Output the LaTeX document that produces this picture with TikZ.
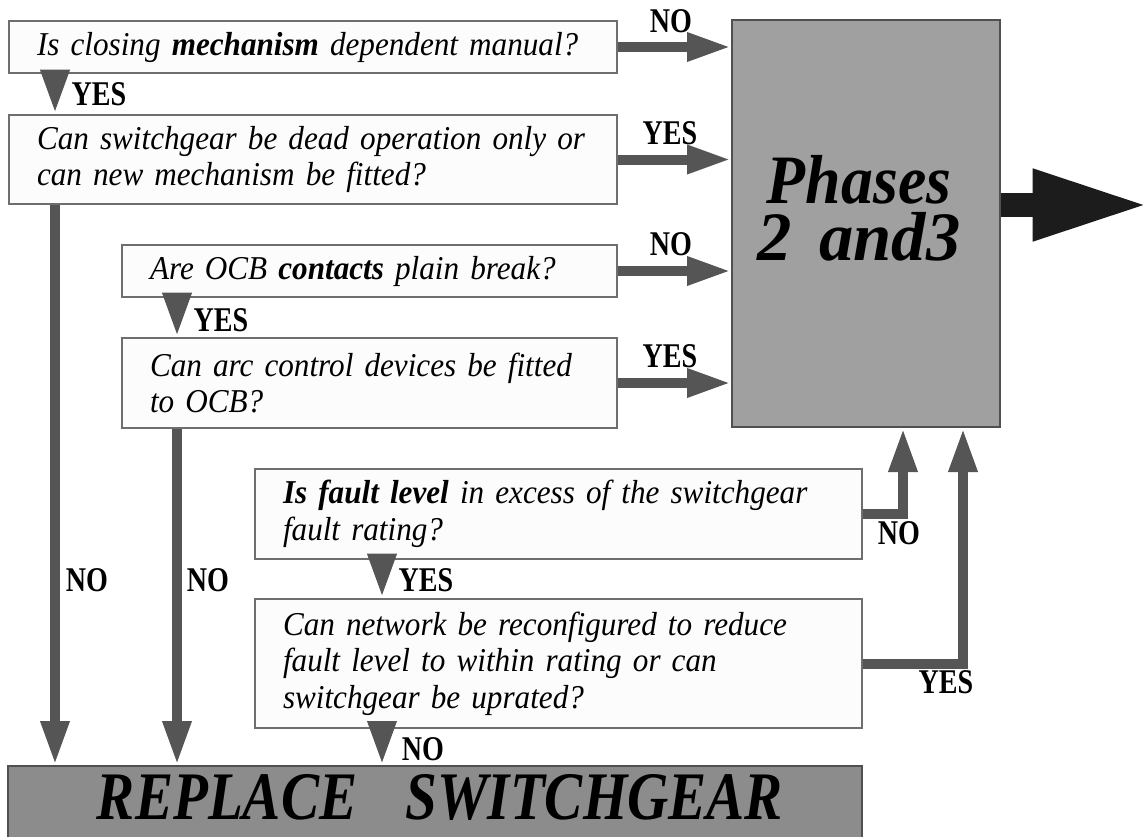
\documentclass[tikz,border=0pt]{standalone}
\usepackage{fontspec}
\setmainfont{Liberation Serif}
\newfontfamily\qfont{Liberation Serif}[FakeStretch=0.935]
\newfontfamily\lfont{Liberation Serif}[FakeStretch=0.81]
\newfontfamily\pfont{Liberation Serif}[FakeStretch=0.92]
\newfontfamily\pfontw{Liberation Serif}[FakeStretch=0.99]
\newfontfamily\rfont{Liberation Serif}[FakeStretch=0.84]
\usetikzlibrary{arrows.meta}

\definecolor{arrowgray}{RGB}{85,85,85}
\definecolor{boxline}{RGB}{110,110,110}
\definecolor{boxfill}{RGB}{252,252,252}
\definecolor{phfill}{RGB}{160,160,160}
\definecolor{repfill}{RGB}{140,140,140}
\definecolor{darkarrow}{RGB}{28,28,28}
\definecolor{frame}{RGB}{80,80,80}

\tikzset{
  question/.style={draw=boxline, line width=1.9pt, fill=boxfill, rectangle,
    inner xsep=21pt, inner ysep=0pt, align=left,
    font=\qfont\itshape\fontsize{25pt}{27.5pt}\selectfont},
  phasebox/.style={draw=frame, line width=1.5pt, fill=phfill, rectangle, inner sep=0pt},
  replacebox/.style={draw=frame, line width=1.5pt, fill=repfill, rectangle, inner sep=0pt},
  phtext/.style={inner sep=0pt, align=center,
    font=\pfont\bfseries\itshape\fontsize{52pt}{43pt}\selectfont},
  reptext/.style={inner sep=0pt,
    font=\rfont\bfseries\itshape\fontsize{51pt}{51pt}\selectfont},
  answer/.style={inner sep=0pt, font=\lfont\bfseries\fontsize{26pt}{26pt}\selectfont},
  flow/.style={draw=arrowgray, line width=7.5pt, -{Triangle[length=33pt,width=20pt]}},
  bigarrow/.style={draw=darkarrow, line width=18pt, -{Triangle[length=88pt,width=49pt]}},
}

\begin{document}
\begin{tikzpicture}[x=0.75pt, y=-0.75pt]
\useasboundingbox (0,0) rectangle (1143,836);
\clip (0,0) rectangle (1143,836);

% outcome boxes
\node[phasebox, minimum width=201pt, minimum height=305.25pt] (ph) at (866,223.5) {};
\node[phtext] (phtxt) at (859,208) {Phases\\{\pfontw 2\hspace{0.4em}and3}};
\node[replacebox, minimum width=640.5pt, minimum height=75pt] (rep) at (435,816) {};
\node[reptext, anchor=base] (reptxt) at (440,819) {REPLACE\hspace{36pt}SWITCHGEAR};

% question boxes
\node[question, minimum width=456pt, minimum height=39pt, text width=414pt] (b1) at (313,47)
  {Is closing \textbf{mechanism} dependent manual?};
\node[question, minimum width=456pt, minimum height=66.75pt, text width=414pt] (b2) at (313,159.5)
  {Can switchgear be dead operation only or\\can new mechanism be fitted?};
\node[question, minimum width=371.25pt, minimum height=39pt, text width=329.25pt] (b3) at (369.5,271)
  {Are OCB \textbf{contacts} plain break?};
\node[question, minimum width=371.25pt, minimum height=67.5pt, text width=329.25pt] (b4) at (369.5,383)
  {Can arc control devices be fitted\\to OCB?};
\node[question, minimum width=455.25pt, minimum height=67.5pt, text width=413.25pt] (b5) at (558.5,514)
  {\textbf{Is fault level} in excess of the switchgear\\fault rating?};
\node[question, minimum width=455.25pt, minimum height=96.75pt, text width=413.25pt] (b6) at (558.5,663.5)
  {Can network be reconfigured to reduce\\fault level to within rating or can\\switchgear be uprated?};

% columns of the vertical connectors
\coordinate (xa) at (55,0);
\coordinate (xb) at (177,0);
\coordinate (xc) at (382,0);
\coordinate (xd) at (903,0);
\coordinate (xe) at (963,0);
\coordinate (out) at (1150,205);

% connectors into Phases 2 and 3
\draw[flow] (b1.east) -- (b1.east -| ph.west);
\draw[flow] (b2.east) -- (b2.east -| ph.west);
\draw[flow] (b3.east) -- (b3.east -| ph.west);
\draw[flow] (b4.east) -- (b4.east -| ph.west);
\draw[flow] (b5.east) -| (ph.south -| xd);
\draw[flow] (b6.east) -| (ph.south -| xe);

% downward connectors
\draw[flow] (b1.south -| xa) -- (b2.north -| xa);
\draw[flow] (b3.south -| xb) -- (b4.north -| xb);
\draw[flow] (b5.south -| xc) -- (b6.north -| xc);
\draw[flow] (b2.south -| xa) -- (rep.north -| xa);
\draw[flow] (b4.south -| xb) -- (rep.north -| xb);
\draw[flow] (b6.south -| xc) -- (rep.north -| xc);

% exit arrow
\draw[bigarrow] (ph.east |- out) -- (out);

% answers
\node[answer] (n1) at (671,21) {NO};
\node[answer] (y2) at (670,133) {YES};
\node[answer] (n3) at (671,244) {NO};
\node[answer] (y4) at (670,356) {YES};
\node[answer] (ya) at (99,94) {YES};
\node[answer] (yb) at (221,320) {YES};
\node[answer] (na) at (87,580) {NO};
\node[answer] (nb) at (208,580) {NO};
\node[answer] (yc) at (426,580) {YES};
\node[answer] (nc) at (423,749) {NO};
\node[answer] (n5) at (899,533) {NO};
\node[answer] (y6) at (946,682) {YES};
\end{tikzpicture}
\end{document}
